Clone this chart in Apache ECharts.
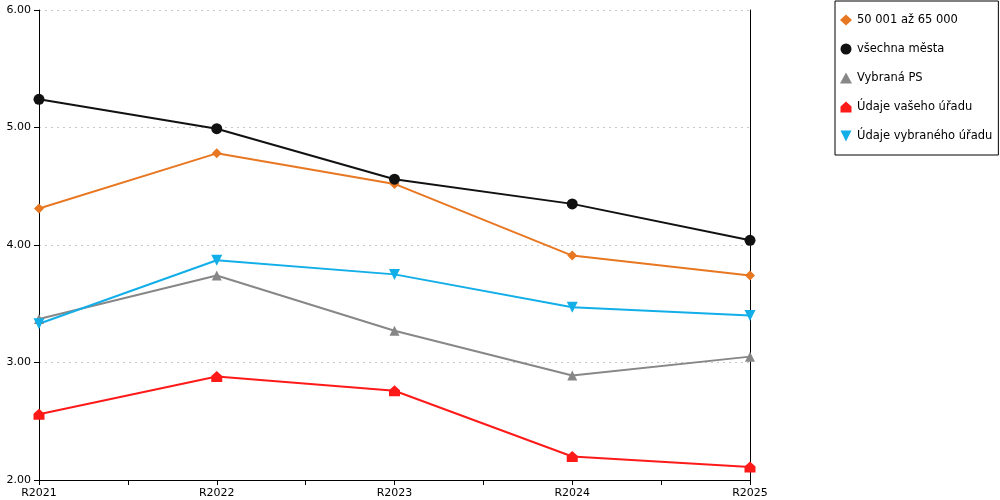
<!DOCTYPE html>
<html>
<head>
    <meta charset="UTF-8"/>
    <title>Vývoj ukazatele</title>
    <script src="https://cdn.jsdelivr.net/npm/echarts@6/dist/echarts.min.js"></script>
</head>
<body style="margin:0">
<div id="chart" style="width:1000px;height:500px;"></div>
<script>
// roky na ose x
var roky = ['R2021', 'R2022', 'R2023', 'R2024', 'R2025'];
// hodnoty jednotlivych rad
var velikostniSkupina = [4.31, 4.78, 4.52, 3.91, 3.74];
var vsechnaMesta = [5.24, 4.99, 4.56, 4.35, 4.04];
var vybranaPS = [3.37, 3.74, 3.27, 2.89, 3.05];
var vasUrad = [2.56, 2.88, 2.76, 2.20, 2.11];
var vybranyUrad = [3.33, 3.87, 3.75, 3.47, 3.40];
var yTicks = [2, 3, 4, 5, 6];

var font = 'DejaVu Sans';
var domek = 'path://M5,0 L10,4.5 L10,10 L0,10 L0,4.5 Z';
var sipka = 'path://M0,0 L10,0 L5,10 Z';

function body(hodnoty) {
    return hodnoty.map(function (v, i) { return [i, v]; });
}

function rada(jmeno, hodnoty, barva, symbol, velikost) {
    return {
        name: jmeno,
        type: 'line',
        data: body(hodnoty),
        symbol: symbol,
        symbolSize: velikost,
        lineStyle: {color: barva, width: 2},
        itemStyle: {color: barva},
        emphasis: {disabled: true}
    };
}

var myChart = echarts.init(document.getElementById('chart'));
var option = {
    animation: false,
    textStyle: {fontFamily: font},
    grid: {left: 39, right: 250, top: 10, bottom: 20},
    legend: {
        orient: 'vertical',
        left: 835,
        top: 1,
        padding: [13, 6, 13, 5],
        itemGap: 17,
        itemWidth: 12,
        itemHeight: 11,
        borderColor: '#000',
        borderWidth: 1,
        textStyle: {fontFamily: font, fontSize: 11.5, color: '#000'},
        data: [
            {name: '50 001 až 65 000', icon: 'diamond'},
            {name: 'všechna města', icon: 'circle'},
            {name: 'Vybraná PS', icon: 'triangle'},
            {name: 'Údaje vašeho úřadu', icon: domek},
            {name: 'Údaje vybraného úřadu', icon: sipka}
        ]
    },
    xAxis: {
        type: 'value',
        min: 0,
        max: roky.length - 1,
        interval: 0.5,
        axisLine: {lineStyle: {color: '#000', width: 1}},
        axisTick: {show: true, length: 5, lineStyle: {color: '#000'}},
        axisLabel: {
            color: '#000',
            fontSize: 11,
            margin: 8,
            formatter: function (v) {
                return Number.isInteger(v) ? roky[v] : '';
            }
        },
        splitLine: {show: false}
    },
    yAxis: [{
        type: 'value',
        min: yTicks[0],
        max: yTicks[yTicks.length - 1],
        interval: 1,
        axisLine: {show: true, lineStyle: {color: '#000', width: 1}},
        axisTick: {show: true, length: 5, lineStyle: {color: '#000'}},
        axisLabel: {
            color: '#000',
            fontSize: 11,
            margin: 8,
            formatter: function (v) { return v.toFixed(2); }
        },
        splitLine: {lineStyle: {color: '#c8c8c8', type: [2, 4]}}
    }, {
        type: 'value',
        position: 'right',
        min: yTicks[0],
        max: yTicks[yTicks.length - 1],
        interval: 1,
        axisLine: {show: true, lineStyle: {color: '#000', width: 1}},
        axisTick: {show: false},
        axisLabel: {show: false},
        splitLine: {show: false}
    }],
    series: [
        rada('50 001 až 65 000', velikostniSkupina, '#e87722', 'diamond', 10),
        rada('všechna města', vsechnaMesta, '#111111', 'circle', 11),
        rada('Vybraná PS', vybranaPS, '#878787', 'triangle', 10),
        rada('Údaje vašeho úřadu', vasUrad, '#ff1a1a', domek, 11),
        rada('Údaje vybraného úřadu', vybranyUrad, '#12aee8', sipka, 11)
    ]
};
myChart.setOption(option);
</script>
</body>
</html>
